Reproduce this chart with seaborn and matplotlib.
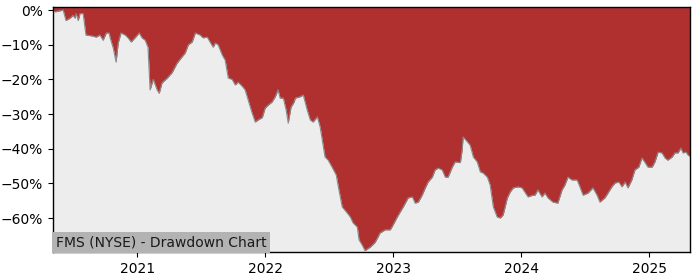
import matplotlib
matplotlib.use("Agg")
import matplotlib.pyplot as plt
import matplotlib.dates as mdates
from matplotlib.ticker import FuncFormatter
import seaborn as sns
import pandas as pd

dates = [
    "2020-05-06", "2020-05-12", "2020-06-04", "2020-06-12", "2020-06-24", "2020-07-02",
    "2020-07-08", "2020-07-11", "2020-07-17", "2020-07-22", "2020-07-31", "2020-08-06",
    "2020-08-08", "2020-08-28", "2020-09-06", "2020-09-17", "2020-09-26", "2020-10-05",
    "2020-10-13", "2020-10-16", "2020-10-25", "2020-11-02", "2020-11-08", "2020-11-16",
    "2020-11-28", "2020-12-06", "2020-12-15", "2020-12-26",
    "2021-01-07", "2021-01-15", "2021-01-24", "2021-02-01", "2021-02-07", "2021-02-16",
    "2021-02-27", "2021-03-05", "2021-03-13", "2021-03-28", "2021-04-11", "2021-04-25",
    "2021-05-09", "2021-05-18", "2021-05-27", "2021-06-07", "2021-06-16", "2021-06-30",
    "2021-07-08", "2021-07-20", "2021-07-28", "2021-08-06",
    "2021-08-12", "2021-08-20", "2021-09-01", "2021-09-09", "2021-09-18", "2021-09-29",
    "2021-10-08", "2021-10-16", "2021-10-28", "2021-11-05", "2021-11-14", "2021-11-25",
    "2021-12-04", "2021-12-12", "2021-12-24", "2022-01-01", "2022-01-10", "2022-01-21",
    "2022-01-30", "2022-02-07", "2022-02-13", "2022-02-22", "2022-03-02", "2022-03-08",
    "2022-03-16", "2022-03-25",
    "2022-03-28", "2022-04-11", "2022-04-20", "2022-05-01", "2022-05-10", "2022-05-18",
    "2022-05-30", "2022-06-07", "2022-06-21", "2022-06-30", "2022-07-11", "2022-07-23",
    "2022-07-29", "2022-08-09", "2022-08-23", "2022-09-01", "2022-09-09", "2022-09-21",
    "2022-09-26", "2022-10-05", "2022-10-13", "2022-10-28", "2022-11-11",
    "2022-11-25", "2022-12-10", "2022-12-24", "2023-01-01", "2023-01-13", "2023-01-21",
    "2023-01-30", "2023-02-13", "2023-02-25", "2023-03-05", "2023-03-14", "2023-03-25",
    "2023-04-03", "2023-04-11", "2023-04-23", "2023-05-01", "2023-05-10", "2023-05-21",
    "2023-05-30", "2023-06-07", "2023-06-19", "2023-06-27",
    "2023-07-12", "2023-07-17", "2023-07-20", "2023-08-01", "2023-08-09", "2023-08-18",
    "2023-08-29", "2023-09-07", "2023-09-15", "2023-09-27", "2023-10-05", "2023-10-14",
    "2023-10-25", "2023-11-03", "2023-11-11", "2023-11-23", "2023-12-01", "2023-12-10",
    "2023-12-24", "2024-01-04", "2024-01-12", "2024-01-21", "2024-02-04",
    "2024-02-10", "2024-02-18", "2024-03-01", "2024-03-09", "2024-03-18", "2024-04-01",
    "2024-04-15", "2024-04-27", "2024-05-05", "2024-05-14", "2024-05-25", "2024-06-09",
    "2024-06-17", "2024-06-26", "2024-07-10", "2024-07-24", "2024-08-05", "2024-08-13",
    "2024-08-27", "2024-09-05", "2024-09-16", "2024-09-25",
    "2024-10-06", "2024-10-15", "2024-10-24", "2024-11-01", "2024-11-12", "2024-11-21",
    "2024-12-02", "2024-12-11", "2024-12-20", "2024-12-28", "2025-01-09", "2025-01-17",
    "2025-01-26", "2025-02-06", "2025-02-15", "2025-02-23", "2025-03-07", "2025-03-15",
    "2025-03-24", "2025-04-01", "2025-04-07", "2025-04-16", "2025-04-21", "2025-04-27",
]

drawdown = [
    0.0, -0.5, 0.0, -3.0, -2.3, -1.5,
    -2.3, -1.0, -3.0, -1.0, -1.0, -5.8,
    -7.2, -7.5, -7.8, -7.2, -8.7, -6.6,
    -6.6, -8.0, -11.0, -15.0, -9.5, -6.6,
    -7.2, -8.0, -9.2, -8.0,
    -6.6, -8.0, -8.7, -10.7, -23.0, -20.0,
    -23.0, -24.0, -21.0, -19.6, -18.0, -15.3,
    -13.5, -12.4, -10.0, -9.2, -6.6, -7.2,
    -8.0, -7.8, -9.2, -10.7,
    -9.5, -10.0, -13.0, -14.4, -19.6, -20.0,
    -21.6, -20.8, -22.0, -23.0, -26.0, -29.7,
    -32.3, -31.7, -31.0, -28.3, -27.4, -26.5,
    -25.0, -23.0, -25.4, -25.4, -28.8, -32.6,
    -28.0, -26.5,
    -25.4, -25.0, -24.5, -28.8, -31.7, -32.3,
    -30.8, -33.7, -42.4, -43.3, -45.3, -47.6,
    -51.0, -56.8, -58.5, -59.7, -61.4, -62.6,
    -66.3, -67.8, -69.4, -68.4, -67.0,
    -64.3, -63.4, -63.4, -62.0, -59.7, -58.3,
    -56.8, -54.2, -53.9, -55.7, -55.4, -53.4,
    -51.3, -49.6, -48.2, -46.1, -45.6, -46.1,
    -48.2, -48.2, -45.3, -43.8,
    -44.0, -40.4, -36.6, -38.0, -39.0, -42.4,
    -43.8, -46.7, -47.0, -48.2, -50.5, -56.8,
    -59.7, -60.0, -59.1, -54.2, -52.5, -51.3,
    -51.0, -51.3, -52.5, -53.9, -53.4,
    -53.4, -51.9, -53.9, -52.8, -54.2, -55.4,
    -55.7, -51.9, -50.5, -48.2, -49.0, -49.0,
    -51.0, -53.4, -52.8, -51.3, -53.4, -55.4,
    -54.2, -52.8, -51.0, -49.9,
    -49.6, -51.0, -49.6, -51.3, -49.0, -46.1,
    -45.3, -42.7, -44.0, -45.3, -45.3, -43.8,
    -41.0, -41.2, -42.7, -43.3, -42.4, -41.2,
    -41.2, -39.8, -41.2, -41.0, -41.8, -42.2,
]

title_text = "FMS (NYSE) - Drawdown Chart"

df = pd.DataFrame({"date": pd.to_datetime(dates), "dd": drawdown})

sns.set_style("ticks")
plt.rcParams["font.family"] = ["DejaVu Sans"]

fig = plt.figure(figsize=(7, 2.8), dpi=100)
ax = fig.add_axes([0.0757, 0.1, 0.91, 0.875])
ax.set_facecolor("#ededed")

ax.fill_between(df["date"], df["dd"], 5, color="#b03030", linewidth=0, zorder=2)
sns.lineplot(data=df, x="date", y="dd", ax=ax, color="#8a8a8a", linewidth=0.8, zorder=3)

ax.set_xlim(df["date"].iloc[0], df["date"].iloc[-1])
ax.set_ylim(-69.8, 0.9)
ax.set_yticks([0, -10, -20, -30, -40, -50, -60])
ax.yaxis.set_major_formatter(FuncFormatter(lambda v, p: f"{int(round(v))}%".replace("-", "\u2212")))
ax.xaxis.set_major_locator(mdates.YearLocator())
ax.xaxis.set_major_formatter(mdates.DateFormatter("%Y"))
ax.set_xlabel("")
ax.set_ylabel("")
ax.tick_params(labelsize=10, length=3.5, width=0.8, colors="black")
for s in ax.spines.values():
    s.set_linewidth(1.0)
    s.set_color("black")
    s.set_visible(True)
    s.set_zorder(5)

ax.text(0.004, 0.012, title_text, transform=ax.transAxes, fontsize=10,
        color="#1a1a1a", ha="left", va="bottom", zorder=6,
        bbox=dict(facecolor="#b3b3b3", edgecolor="none", pad=2.5))

fig.savefig("out.png", dpi=100)
